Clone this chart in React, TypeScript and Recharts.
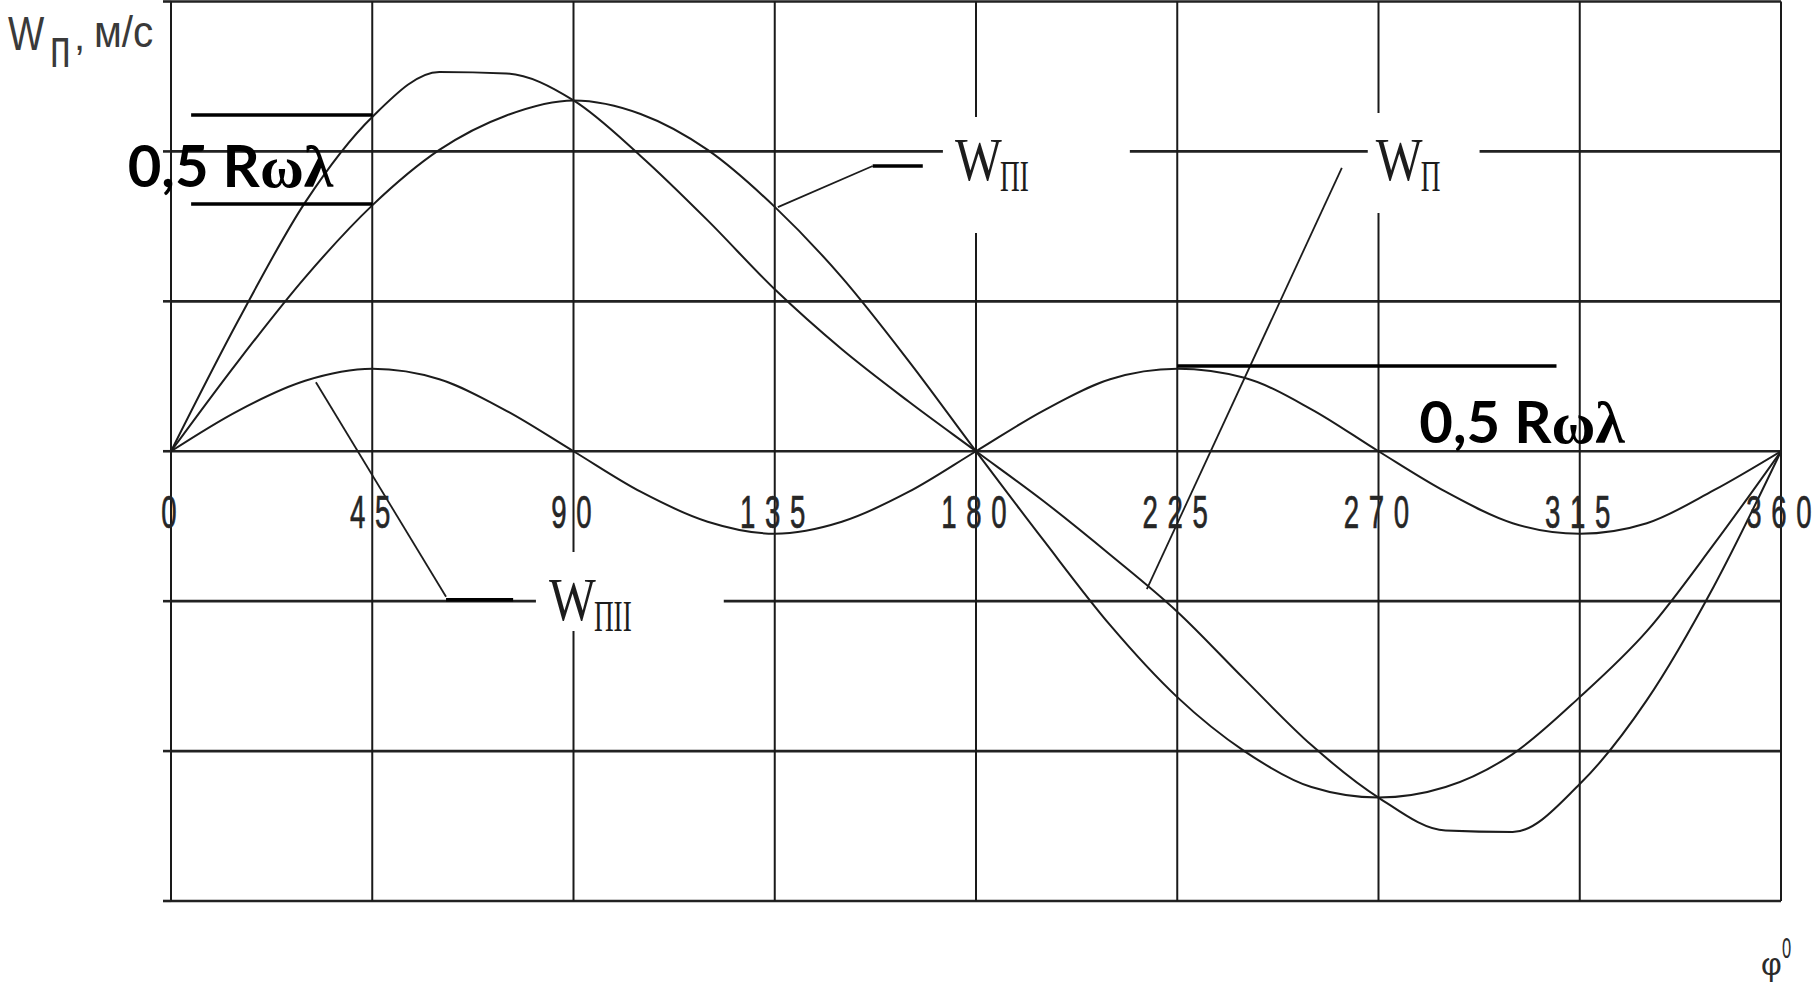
import React from 'react';
import {
  ComposedChart,
  Line,
  XAxis,
  YAxis,
  CartesianGrid,
  ReferenceLine,
  ReferenceArea,
  ReferenceDot,
} from 'recharts';

// ---- data (values in grid units) ----
const ANGLES = [0, 15, 30, 45, 60, 75, 90, 105, 120, 135, 150, 165, 180, 195, 210, 225, 240, 255, 270, 285, 300, 315, 330, 345, 360];
const W_P = [0, 0.87, 1.66, 2.23, 2.53, 2.52, 2.34, 1.97, 1.54, 1.08, 0.68, 0.33, 0, -0.33, -0.69, -1.07, -1.52, -1.96, -2.31, -2.53, -2.54, -2.22, -1.66, -0.9, 0];
const W_P1 = [0, 0.6, 1.16, 1.64, 2.01, 2.24, 2.34, 2.25, 2.01, 1.63, 1.16, 0.6, 0, -0.59, -1.16, -1.64, -2.0, -2.24, -2.31, -2.24, -2.02, -1.64, -1.2, -0.62, 0];
const W_P2 = [0, 0.27, 0.47, 0.55, 0.48, 0.27, 0, -0.27, -0.47, -0.55, -0.47, -0.27, 0, 0.27, 0.48, 0.55, 0.49, 0.28, 0, -0.27, -0.48, -0.55, -0.48, -0.26, 0];

const X_TICKS = [0, 45, 90, 135, 180, 225, 270, 315, 360];
const X_TICK_LABELS = ['0', '45', '90', '135', '180', '225', '270', '315', '360'];
const Y_GRID = [-3, -2, -1, 0, 1, 2, 3];
const TICK_LABEL_LEVEL = -0.512;

// "0,5 Rωλ" level marks
const LEVEL_MARKS = [
  { x1: 4.5, x2: 45, y: 2.243 },
  { x1: 4.5, x2: 45, y: 1.65 },
  { x1: 225, x2: 309.8, y: 0.569 },
];
const LEVEL_TEXTS = [
  { x: 13.3, y: 1.763 },
  { x: 302.1, y: 0.055 },
];

// leader lines to the curve names
const LEADERS_THIN = [
  [{ x: 32.4, y: 0.46 }, { x: 61.5, y: -0.97 }],
  [{ x: 135.7, y: 1.628 }, { x: 156.9, y: 1.903 }],
  [{ x: 218.2, y: -0.92 }, { x: 261.8, y: 1.89 }],
];
const LEADERS_THICK = [
  [{ x: 61.5, y: -0.99 }, { x: 76.5, y: -0.99 }],
  [{ x: 156.9, y: 1.903 }, { x: 168.1, y: 1.903 }],
];
const SERIES_NAMES = [
  { x: 175.3, y: 1.81, sub: 'ПI' },
  { x: 269.4, y: 1.81, sub: 'П' },
  { x: 84.5, y: -1.126, sub: 'ПII' },
];
// blank patches where the grid is interrupted by the names
const GRID_GAPS = [
  { x1: 172.6, x2: 214.4, y1: 1.456, y2: 2.23 },
  { x1: 267.6, x2: 292.6, y1: 1.589, y2: 2.256 },
  { x1: 81.6, x2: 123.6, y1: -1.199, y2: -0.672 },
];

const data = ANGLES.map((phi, i) => ({ phi, wp: W_P[i], wp1: W_P1[i], wp2: W_P2[i] }));

const INK = '#1c1c1c';
const SANS = "'Liberation Sans', Arial, sans-serif";
const SERIF = "'Liberation Serif', 'Times New Roman', serif";

function TickText(props: any) {
  const { cx, cy, text } = props;
  const pitch = 25;
  const n = text.length;
  return (
    <g>
      {text.split('').map((ch: string, i: number) => (
        <text
          key={i}
          transform={`translate(${cx - 2 + (i - (n - 1) / 2) * pitch},${cy}) scale(0.6,1)`}
          textAnchor="middle"
          fontSize={46}
          fontFamily={SANS}
          fill="#262626"
          stroke="#262626"
          strokeWidth={0.7}
        >
          {ch}
        </text>
      ))}
    </g>
  );
}

function SeriesName(props: any) {
  const { cx, cy, sub } = props;
  return (
    <g fill={INK} fontFamily={SERIF}>
      <text transform={`translate(${cx},${cy}) scale(0.8,1)`} fontSize={62}>W</text>
      <text transform={`translate(${cx + 45},${cy + 11}) scale(0.62,1)`} fontSize={44}>{sub}</text>
    </g>
  );
}

function LevelText(props: any) {
  const { cx, cy } = props;
  return (
    <text x={cx} y={cy} textAnchor="middle" fill="#000" fontWeight={700}>
      <tspan fontFamily="Lato, 'Open Sans', sans-serif" fontSize={58}>0,5 R</tspan>
      <tspan fontFamily={SERIF} fontSize={60}>ωλ</tspan>
    </text>
  );
}

function YTitle(props: any) {
  const { cx, cy } = props;
  const x = cx - 163;
  const y = cy;
  return (
    <g fill="#3a3a3a" fontFamily={SANS}>
      <text transform={`translate(${x},${y + 48}) scale(0.8,1)`} fontSize={48}>W</text>
      <text transform={`translate(${x + 42},${y + 65}) scale(0.68,1)`} fontSize={56}>п</text>
      <text transform={`translate(${x + 66},${y + 48})`} fontSize={40}>,</text>
      <text transform={`translate(${x + 86},${y + 45}) scale(0.92,1)`} fontSize={44}>м/с</text>
    </g>
  );
}

function XTitle(props: any) {
  const { cx, cy } = props;
  return (
    <g fill="#2b2b2b" fontFamily={SANS}>
      <text x={cx - 20} y={cy + 74} fontSize={32}>φ</text>
      <text transform={`translate(${cx + 1},${cy + 57}) scale(0.55,1)`} fontSize={30}>0</text>
    </g>
  );
}

export default function App() {
  return (
    <div style={{ position: 'absolute', left: 0, top: 0, width: 1816, height: 987, background: '#fff' }}>
      <ComposedChart
        width={1816}
        height={987}
        data={data}
        margin={{ top: 1.5, right: 35, bottom: 86, left: 163 }}
      >
        <XAxis type="number" dataKey="phi" domain={[0, 360]} ticks={X_TICKS} hide />
        <YAxis
          type="number"
          domain={[-3, 3]}
          ticks={Y_GRID}
          width={8}
          tickSize={8}
          tickFormatter={() => ''}
          axisLine={{ stroke: '#1a1a1a', strokeWidth: 2 }}
          tickLine={{ stroke: '#222', strokeWidth: 2.6 }}
        />
        <CartesianGrid vertical={false} horizontalValues={Y_GRID} stroke="#222" strokeWidth={2.6} />
        <CartesianGrid horizontal={false} verticalValues={X_TICKS} stroke="#1a1a1a" strokeWidth={2} />
        {GRID_GAPS.map((g, i) => (
          <ReferenceArea
            key={`gap${i}`}
            x1={g.x1}
            x2={g.x2}
            y1={g.y1}
            y2={g.y2}
            fill="#ffffff"
            fillOpacity={1}
            stroke="none"
            ifOverflow="visible"
          />
        ))}
        <Line dataKey="wp" type="monotone" stroke={INK} strokeWidth={2} dot={false} activeDot={false} isAnimationActive={false} />
        <Line dataKey="wp1" type="monotone" stroke={INK} strokeWidth={2} dot={false} activeDot={false} isAnimationActive={false} />
        <Line dataKey="wp2" type="monotone" stroke={INK} strokeWidth={2} dot={false} activeDot={false} isAnimationActive={false} />
        {LEADERS_THIN.map((s, i) => (
          <ReferenceLine key={`lt${i}`} segment={s} stroke={INK} strokeWidth={1.8} ifOverflow="visible" />
        ))}
        {LEADERS_THICK.map((s, i) => (
          <ReferenceLine key={`lk${i}`} segment={s} stroke="#000" strokeWidth={3.5} ifOverflow="visible" />
        ))}
        {LEVEL_MARKS.map((m, i) => (
          <ReferenceLine
            key={`lm${i}`}
            segment={[{ x: m.x1, y: m.y }, { x: m.x2, y: m.y }]}
            stroke="#000"
            strokeWidth={3.5}
            ifOverflow="visible"
          />
        ))}
        {X_TICKS.map((t, i) => (
          <ReferenceDot
            key={`tk${i}`}
            x={t}
            y={TICK_LABEL_LEVEL}
            ifOverflow="visible"
            shape={(p: any) => <TickText cx={p.cx} cy={p.cy} text={X_TICK_LABELS[i]} />}
          />
        ))}
        {SERIES_NAMES.map((s, i) => (
          <ReferenceDot
            key={`sn${i}`}
            x={s.x}
            y={s.y}
            ifOverflow="visible"
            shape={(p: any) => <SeriesName cx={p.cx} cy={p.cy} sub={s.sub} />}
          />
        ))}
        {LEVEL_TEXTS.map((s, i) => (
          <ReferenceDot
            key={`lv${i}`}
            x={s.x}
            y={s.y}
            ifOverflow="visible"
            shape={(p: any) => <LevelText cx={p.cx} cy={p.cy} />}
          />
        ))}
        <ReferenceDot x={0} y={3} ifOverflow="visible" shape={(p: any) => <YTitle cx={p.cx} cy={p.cy} />} />
        <ReferenceDot x={360} y={-3} ifOverflow="visible" shape={(p: any) => <XTitle cx={p.cx} cy={p.cy} />} />
      </ComposedChart>
    </div>
  );
}
